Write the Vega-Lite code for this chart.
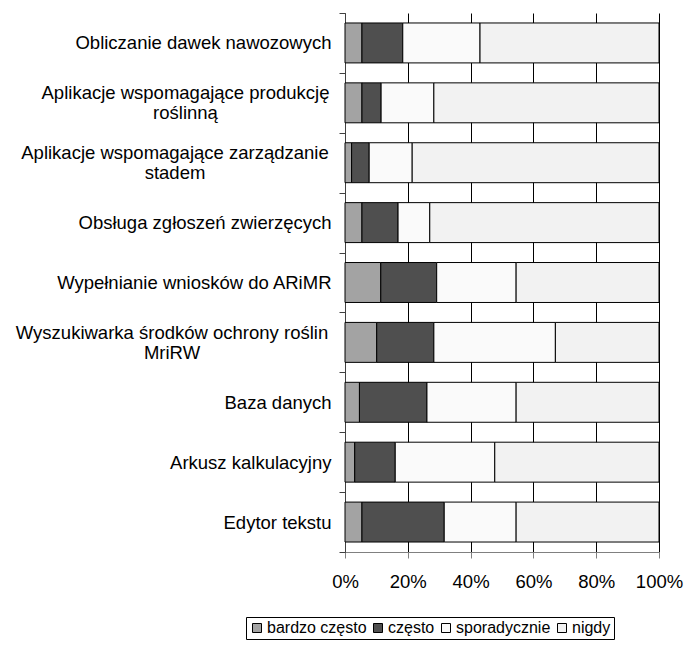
{
  "$schema": "https://vega.github.io/schema/vega-lite/v6.json",
  "width": 314,
  "height": 539,
  "autosize": {"type": "none"},
  "padding": {"left": 345, "top": 13, "right": 26, "bottom": 94},
  "background": "white",
  "config": {"font": "Liberation Sans", "view": {"stroke": null}},
  "data": {
    "values": [
      {"item": "Obliczanie dawek nawozowych", "freq": "bardzo często", "k": 0, "value": 5.4},
      {"item": "Obliczanie dawek nawozowych", "freq": "często", "k": 1, "value": 13.0},
      {"item": "Obliczanie dawek nawozowych", "freq": "sporadycznie", "k": 2, "value": 24.6},
      {"item": "Obliczanie dawek nawozowych", "freq": "nigdy", "k": 3, "value": 57.0},
      {"item": "Aplikacje wspomagające produkcję roślinną", "freq": "bardzo często", "k": 0, "value": 5.4},
      {"item": "Aplikacje wspomagające produkcję roślinną", "freq": "często", "k": 1, "value": 6.1},
      {"item": "Aplikacje wspomagające produkcję roślinną", "freq": "sporadycznie", "k": 2, "value": 16.8},
      {"item": "Aplikacje wspomagające produkcję roślinną", "freq": "nigdy", "k": 3, "value": 71.7},
      {"item": "Aplikacje wspomagające zarządzanie stadem", "freq": "bardzo często", "k": 0, "value": 2.1},
      {"item": "Aplikacje wspomagające zarządzanie stadem", "freq": "często", "k": 1, "value": 5.6},
      {"item": "Aplikacje wspomagające zarządzanie stadem", "freq": "sporadycznie", "k": 2, "value": 13.7},
      {"item": "Aplikacje wspomagające zarządzanie stadem", "freq": "nigdy", "k": 3, "value": 78.6},
      {"item": "Obsługa zgłoszeń zwierzęcych", "freq": "bardzo często", "k": 0, "value": 5.4},
      {"item": "Obsługa zgłoszeń zwierzęcych", "freq": "często", "k": 1, "value": 11.5},
      {"item": "Obsługa zgłoszeń zwierzęcych", "freq": "sporadycznie", "k": 2, "value": 10.1},
      {"item": "Obsługa zgłoszeń zwierzęcych", "freq": "nigdy", "k": 3, "value": 73.0},
      {"item": "Wypełnianie wniosków do ARiMR", "freq": "bardzo często", "k": 0, "value": 11.4},
      {"item": "Wypełnianie wniosków do ARiMR", "freq": "często", "k": 1, "value": 17.8},
      {"item": "Wypełnianie wniosków do ARiMR", "freq": "sporadycznie", "k": 2, "value": 25.3},
      {"item": "Wypełnianie wniosków do ARiMR", "freq": "nigdy", "k": 3, "value": 45.5},
      {"item": "Wyszukiwarka środków ochrony roślin MriRW", "freq": "bardzo często", "k": 0, "value": 10.1},
      {"item": "Wyszukiwarka środków ochrony roślin MriRW", "freq": "często", "k": 1, "value": 18.2},
      {"item": "Wyszukiwarka środków ochrony roślin MriRW", "freq": "sporadycznie", "k": 2, "value": 38.7},
      {"item": "Wyszukiwarka środków ochrony roślin MriRW", "freq": "nigdy", "k": 3, "value": 33.0},
      {"item": "Baza danych", "freq": "bardzo często", "k": 0, "value": 4.6},
      {"item": "Baza danych", "freq": "często", "k": 1, "value": 21.5},
      {"item": "Baza danych", "freq": "sporadycznie", "k": 2, "value": 28.4},
      {"item": "Baza danych", "freq": "nigdy", "k": 3, "value": 45.5},
      {"item": "Arkusz kalkulacyjny", "freq": "bardzo często", "k": 0, "value": 3.1},
      {"item": "Arkusz kalkulacyjny", "freq": "często", "k": 1, "value": 12.9},
      {"item": "Arkusz kalkulacyjny", "freq": "sporadycznie", "k": 2, "value": 31.7},
      {"item": "Arkusz kalkulacyjny", "freq": "nigdy", "k": 3, "value": 52.3},
      {"item": "Edytor tekstu", "freq": "bardzo często", "k": 0, "value": 5.4},
      {"item": "Edytor tekstu", "freq": "często", "k": 1, "value": 26.2},
      {"item": "Edytor tekstu", "freq": "sporadycznie", "k": 2, "value": 22.9},
      {"item": "Edytor tekstu", "freq": "nigdy", "k": 3, "value": 45.5}
    ]
  },
  "mark": {"type": "bar", "stroke": "black", "strokeWidth": 1, "height": {"band": 0.667}},
  "encoding": {
    "y": {
      "field": "item",
      "type": "nominal",
      "sort": null,
      "scale": {"paddingInner": 0, "paddingOuter": 0},
      "axis": {
        "title": null,
        "tickBand": "extent",
        "domainColor": "#404040",
        "tickColor": "#404040",
        "tickSize": 6,
        "labelFontSize": 18.5,
        "labelColor": "#000",
        "labelLimit": 400,
        "labelLineHeight": 20,
        "labelExpr": "datum.label == 'Aplikacje wspomagające produkcję roślinną' ? ['Aplikacje wspomagające produkcję', 'roślinną'] : datum.label == 'Aplikacje wspomagające zarządzanie stadem' ? ['Aplikacje wspomagające zarządzanie', 'stadem'] : datum.label == 'Wyszukiwarka środków ochrony roślin MriRW' ? ['Wyszukiwarka środków ochrony roślin', 'MriRW'] : datum.label",
        "labelAlign": {
          "condition": {"test": "indexof(['Aplikacje wspomagające produkcję roślinną','Aplikacje wspomagające zarządzanie stadem','Wyszukiwarka środków ochrony roślin MriRW'], datum.value) >= 0", "value": "center"},
          "value": "right"
        },
        "labelOffset": {
          "condition": {"test": "indexof(['Aplikacje wspomagające produkcję roślinną','Aplikacje wspomagające zarządzanie stadem','Wyszukiwarka środków ochrony roślin MriRW'], datum.value) >= 0", "value": -10},
          "value": 0
        },
        "labelPadding": {
          "condition": [
            {"test": "datum.value == 'Aplikacje wspomagające produkcję roślinną'", "value": 154},
            {"test": "datum.value == 'Aplikacje wspomagające zarządzanie stadem'", "value": 164.5},
            {"test": "datum.value == 'Wyszukiwarka środków ochrony roślin MriRW'", "value": 167.5}
          ],
          "value": 8
        }
      }
    },
    "x": {
      "field": "value",
      "type": "quantitative",
      "stack": "normalize",
      "scale": {"domain": [0, 1], "nice": false},
      "axis": {
        "title": null,
        "values": [0, 0.2, 0.4, 0.6, 0.8, 1],
        "format": "%",
        "grid": true,
        "gridColor": "#000",
        "gridOpacity": 1,
        "gridWidth": 1,
        "domainColor": "#808080",
        "tickColor": "#808080",
        "tickSize": 6,
        "labelFontSize": 18.5,
        "labelColor": "#000",
        "labelPadding": 14,
        "labelFlush": false
      }
    },
    "color": {
      "field": "freq",
      "type": "nominal",
      "sort": ["bardzo często", "często", "sporadycznie", "nigdy"],
      "scale": {"domain": ["bardzo często", "często", "sporadycznie", "nigdy"], "range": ["#a3a3a3", "#4f4f4f", "#fafafa", "#f2f2f2"]},
      "legend": {
        "title": null,
        "orient": "none",
        "direction": "horizontal",
        "legendX": -99,
        "legendY": 604,
        "strokeColor": "#000",
        "padding": 3,
        "symbolType": "square",
        "symbolSize": 81,
        "symbolStrokeColor": "#000",
        "symbolStrokeWidth": 1,
        "symbolOpacity": 1,
        "labelFontSize": 16,
        "labelColor": "#000",
        "labelOffset": 2,
        "columnPadding": 3,
        "labelLimit": 300
      }
    },
    "order": {"field": "k", "type": "quantitative"}
  }
}
